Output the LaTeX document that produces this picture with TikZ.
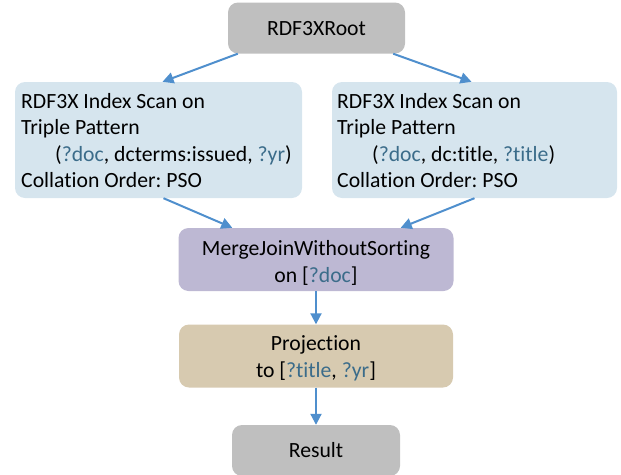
\documentclass[tikz,border=0pt]{standalone}
\usepackage{fontspec}
\setmainfont{Carlito}[Ligatures=NoCommon]
\usetikzlibrary{arrows.meta,calc}
\definecolor{rootgray}{HTML}{BFBFBF}
\definecolor{scanblue}{HTML}{D6E5EE}
\definecolor{mergelilac}{HTML}{BDB8D3}
\definecolor{projtan}{HTML}{D7CAB0}
\definecolor{arrowblue}{HTML}{4F8FCD}
\definecolor{varblue}{HTML}{3B6C8A}
\newcommand\qv[1]{\textcolor{varblue}{#1}}
\frenchspacing
\begin{document}
\begin{tikzpicture}[x=1pt,y=-1pt,
  font=\fontsize{21.7}{26.5}\selectfont,
  opbox/.style={rounded corners=10pt, inner sep=0pt, draw=none},
  txt/.style={inner sep=0pt, anchor=base},
  ltxt/.style={inner sep=0pt, anchor=base west},
  flow/.style={draw=arrowblue, line width=2pt, -{Triangle[length=11pt,width=11pt]}}]
\useasboundingbox (0,0) rectangle (621,474);

% operator boxes
\node[opbox, fill=rootgray, minimum width=177pt, minimum height=51pt] (root) at (316.5,28) {};
\node[opbox, fill=scanblue, minimum width=287pt, minimum height=116pt] (scanL) at (158.5,140) {};
\node[opbox, fill=scanblue, minimum width=285pt, minimum height=116pt] (scanR) at (474.5,140) {};
\node[opbox, fill=mergelilac, minimum width=275pt, minimum height=63pt] (merge) at (316,259.5) {};
\node[opbox, fill=projtan, minimum width=274pt, minimum height=63pt] (proj) at (316,356) {};
\node[opbox, fill=rootgray, minimum width=168pt, minimum height=51pt] (result) at (316,450.5) {};

% box texts
\node[txt] (rootT) at (316.5,35) {RDF3XRoot};

\node[ltxt] (scanL1) at (21,108) {RDF3X Index Scan on};
\node[ltxt] (scanL2) at (21,134.5) {Triple Pattern};
\node[ltxt] (scanL3) at (55,161) {(\qv{?doc}, dcterms:issued, \qv{?yr})};
\node[ltxt] (scanL4) at (21,187.5) {Collation Order: PSO};

\node[ltxt] (scanR1) at (337,108) {RDF3X Index Scan on};
\node[ltxt] (scanR2) at (337,134.5) {Triple Pattern};
\node[ltxt] (scanR3) at (372,161) {(\qv{?doc}, dc:title, \qv{?title})};
\node[ltxt] (scanR4) at (337,187.5) {Collation Order: PSO};

\node[txt] (mergeT1) at (316,255) {MergeJoinWithoutSorting};
\node[txt] (mergeT2) at (316,282) {on [\qv{?doc}]};

\node[txt] (projT1) at (316,350) {Projection};
\node[txt] (projT2) at (316,377) {to [\qv{?title}, \qv{?yr}]};

\node[txt] (resultT) at (316,457) {Result};

% data flow
\draw[flow] ($(root.south west)+(10,0)$) -- ($(scanL.north)+(4,0)$);
\draw[flow] ($(root.south east)+(-12,0)$) -- ($(scanR.north)+(-3,0)$);
\draw[flow] ($(scanL.south)+(5,0)$) -- ($(merge.north west)+(54,0)$);
\draw[flow] (scanR.south) -- ($(merge.north east)+(-53,0)$);
\draw[flow] (merge.south) -- (proj.north);
\draw[flow] (proj.south) -- (result.north);
\end{tikzpicture}
\end{document}
